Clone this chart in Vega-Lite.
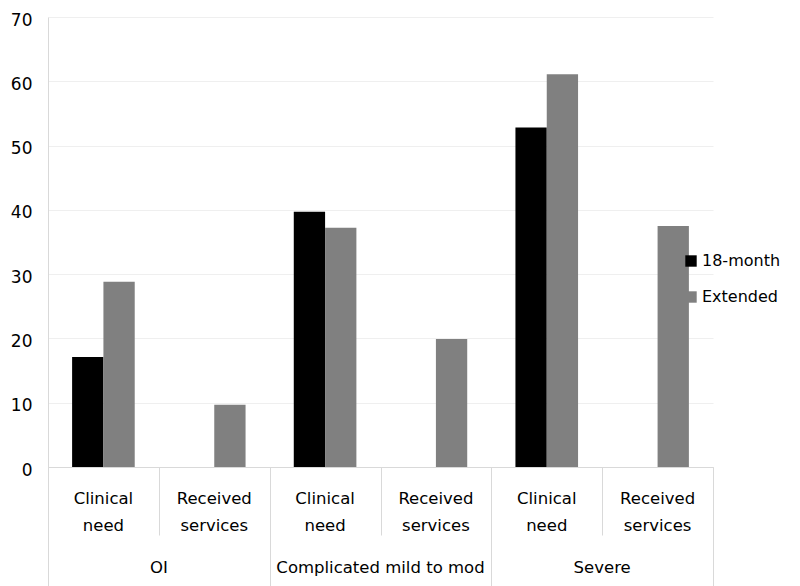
{
  "$schema": "https://vega.github.io/schema/vega-lite/v6.json",
  "width": 665,
  "height": 450,
  "autosize": "none",
  "padding": {"left": 48, "top": 17, "right": 87, "bottom": 119},
  "config": {"view": {"stroke": null}, "font": "DejaVu Sans"},
  "data": {"values": [
    {"key": "OI / Clinical need", "group": "OI", "series": "18-month", "value": 17.1},
    {"key": "OI / Clinical need", "group": "OI", "series": "Extended", "value": 28.8},
    {"key": "OI / Received services", "group": "OI", "series": "Extended", "value": 9.7},
    {"key": "Complicated / Clinical need", "group": "Complicated mild to mod", "series": "18-month", "value": 39.7},
    {"key": "Complicated / Clinical need", "group": "Complicated mild to mod", "series": "Extended", "value": 37.2},
    {"key": "Complicated / Received services", "group": "Complicated mild to mod", "series": "Extended", "value": 19.9},
    {"key": "Severe / Clinical need", "group": "Severe", "series": "18-month", "value": 52.8},
    {"key": "Severe / Clinical need", "group": "Severe", "series": "Extended", "value": 61.1},
    {"key": "Severe / Received services", "group": "Severe", "series": "Extended", "value": 37.5}
  ]},
  "layer": [
    {
      "mark": {"type": "bar"},
      "encoding": {
        "x": {
          "field": "key", "type": "nominal", "sort": null,
          "scale": {"paddingInner": 0, "paddingOuter": 0},
          "axis": {
            "orient": "bottom", "title": null, "domain": true, "domainColor": "#d9d9d9",
            "ticks": true, "tickBand": "extent", "tickSize": 68, "tickColor": "#d9d9d9",
            "labels": false
          }
        },
        "xOffset": {
          "field": "series", "type": "nominal",
          "scale": {"domain": ["18-month", "Extended"], "paddingOuter": 0.77, "paddingInner": 0}
        },
        "y": {
          "field": "value", "type": "quantitative",
          "scale": {"domain": [0, 70]},
          "axis": {
            "title": null, "values": [0, 10, 20, 30, 40, 50, 60, 70],
            "domain": true, "domainColor": "#d9d9d9", "ticks": false,
            "labelPadding": 16, "labelFontSize": 17, "labelColor": "#000000", "labelOffset": 3,
            "grid": true, "gridColor": "#efefef"
          }
        },
        "color": {
          "field": "series", "type": "nominal",
          "scale": {"domain": ["18-month", "Extended"], "range": ["#000000", "#808080"]},
          "legend": {
            "orient": "none", "legendX": 635, "legendY": 236, "padding": 0, "title": null,
            "symbolType": "square", "symbolSize": 130,
            "labelFontSize": 16, "labelColor": "#000000", "rowPadding": 20, "labelOffset": 3
          }
        }
      }
    },
    {
      "mark": {"type": "tick", "opacity": 0},
      "encoding": {
        "x": {
          "field": "key", "type": "nominal", "sort": null,
          "axis": {
            "orient": "bottom", "title": null, "domain": false, "ticks": false,
            "labelAngle": 0, "labelFontSize": 16.5, "labelColor": "#000000",
            "labelBaseline": "middle", "labelPadding": 31, "labelOverlap": false, "labelLimit": 300,
            "labelExpr": "indexof(datum.value, 'Clinical') >= 0 ? 'Clinical' : 'Received'"
          }
        }
      }
    },
    {
      "mark": {"type": "tick", "opacity": 0},
      "encoding": {
        "x": {
          "field": "key", "type": "nominal", "sort": null,
          "axis": {
            "orient": "bottom", "title": null, "domain": false, "ticks": false,
            "labelAngle": 0, "labelFontSize": 16.5, "labelColor": "#000000",
            "labelBaseline": "middle", "labelPadding": 58, "labelOverlap": false, "labelLimit": 300,
            "labelExpr": "indexof(datum.value, 'Clinical') >= 0 ? 'need' : 'services'"
          }
        }
      }
    },
    {
      "mark": {"type": "tick", "opacity": 0},
      "encoding": {
        "x": {
          "field": "key", "type": "nominal", "sort": null,
          "axis": {
            "orient": "bottom", "title": null, "domain": false, "ticks": false,
            "values": ["OI / Clinical need", "Complicated / Clinical need", "Severe / Clinical need"],
            "labelAngle": 0, "labelFontSize": 16.5, "labelColor": "#000000", "labelOffset": 55.4,
            "labelBaseline": "middle", "labelPadding": 100, "labelOverlap": false, "labelLimit": 300, "labelFlush": false,
            "labelExpr": "indexof(datum.value, 'OI') == 0 ? 'OI' : indexof(datum.value, 'Complicated') == 0 ? 'Complicated mild to mod' : 'Severe'"
          }
        }
      }
    },
    {
      "mark": {"type": "tick", "opacity": 0},
      "encoding": {
        "x": {
          "field": "key", "type": "nominal", "sort": null,
          "axis": {
            "orient": "bottom", "title": null, "domain": false, "labels": false,
            "values": ["OI / Clinical need", "Complicated / Clinical need", "Severe / Clinical need"],
            "ticks": true, "tickBand": "center", "tickOffset": -55.4, "tickSize": 119, "tickColor": "#d9d9d9"
          }
        }
      }
    },
    {
      "mark": {"type": "tick", "opacity": 0},
      "encoding": {
        "x": {
          "field": "key", "type": "nominal", "sort": null,
          "axis": {
            "orient": "bottom", "title": null, "domain": false, "labels": false,
            "values": ["Severe / Received services"],
            "ticks": true, "tickBand": "center", "tickOffset": 55.4, "tickSize": 119, "tickColor": "#d9d9d9"
          }
        }
      }
    }
  ],
  "resolve": {"axis": {"x": "independent"}}
}
